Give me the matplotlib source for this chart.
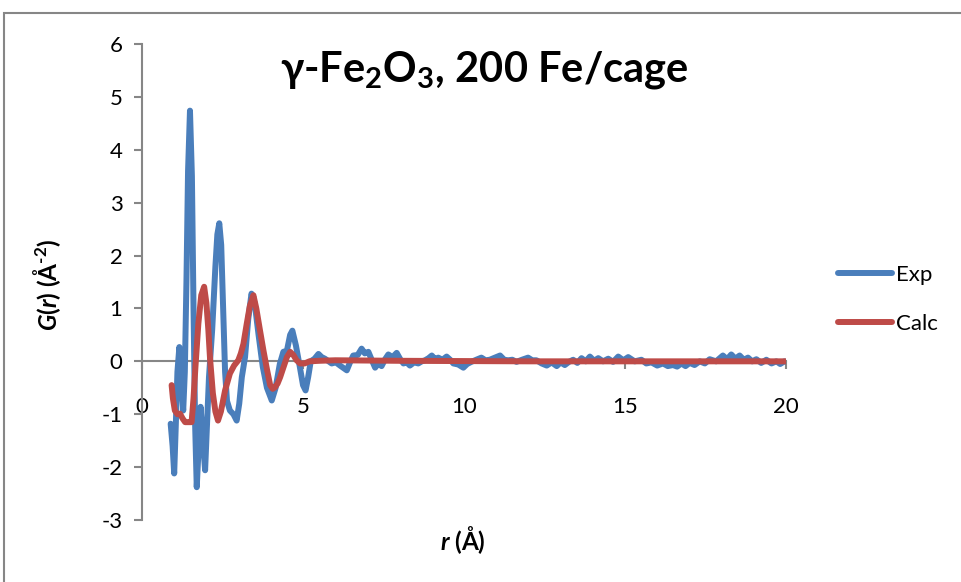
import matplotlib
matplotlib.use("Agg")
from matplotlib import pyplot as plt
from matplotlib.patches import Rectangle

exp_r = [0.89, 0.95, 1.00, 1.05, 1.10, 1.16, 1.22, 1.28, 1.33, 1.38, 1.43, 1.49, 1.55, 1.60,
         1.65, 1.70, 1.76, 1.82, 1.89, 1.96, 2.02, 2.08, 2.18, 2.28, 2.34, 2.40, 2.46, 2.52,
         2.58, 2.64, 2.73, 2.84, 2.94, 3.02, 3.10, 3.20, 3.30, 3.40, 3.50, 3.62, 3.75, 3.88,
         4.03, 4.15, 4.28, 4.39, 4.50, 4.60, 4.67, 4.78, 4.90, 5.00, 5.08, 5.16, 5.24, 5.36,
         5.48, 5.58, 5.68, 5.89, 6.02, 6.15, 6.36, 6.46, 6.56, 6.70, 6.82, 6.92, 7.03, 7.14,
         7.24, 7.34, 7.44, 7.55, 7.65, 7.78, 7.91, 8.02, 8.12, 8.22, 8.32, 8.45, 8.58, 8.69,
         8.79, 8.90, 9.00, 9.10, 9.20, 9.33, 9.46, 9.57, 9.67, 9.82, 9.98, 10.10, 10.23, 10.38,
         10.54, 10.67, 10.80, 10.96, 11.12, 11.25, 11.37, 11.50, 11.63, 11.80, 11.99, 12.12,
         12.25, 12.41, 12.57, 12.72, 12.88, 13.00, 13.13, 13.26, 13.39, 13.52, 13.65, 13.78,
         13.91, 14.04, 14.17, 14.32, 14.48, 14.63, 14.79, 14.95, 15.10, 15.30, 15.51, 15.66,
         15.82, 16.00, 16.18, 16.33, 16.49, 16.62, 16.75, 16.88, 17.01, 17.16, 17.32, 17.48,
         17.63, 17.83, 18.04, 18.17, 18.30, 18.43, 18.56, 18.69, 18.82, 18.95, 19.08, 19.23,
         19.39, 19.55, 19.70, 19.82, 19.95]
exp_g = [-1.18, -1.60, -2.12, -1.20, -0.20, 0.27, -0.40, -0.93, -0.20, 1.50, 3.60, 4.74, 3.50, 1.00,
         -1.20, -2.38, -1.60, -0.86, -1.50, -2.06, -1.20, -0.30, 0.60, 1.80, 2.40, 2.61, 2.20, 1.00,
         -0.20, -0.75, -0.93, -1.00, -1.12, -0.80, -0.30, 0.08, 0.80, 1.28, 1.10, 0.50, -0.10, -0.50,
         -0.74, -0.50, -0.05, 0.18, 0.20, 0.50, 0.58, 0.30, -0.10, -0.45, -0.55, -0.30, 0.00, 0.05,
         0.14, 0.08, 0.05, -0.04, -0.02, -0.08, -0.17, -0.02, 0.11, 0.12, 0.24, 0.15, 0.18, 0.02,
         -0.12, -0.04, -0.09, 0.04, 0.13, 0.08, 0.16, 0.04, -0.04, -0.02, -0.08, -0.02, -0.04, 0.00,
         0.02, 0.06, 0.11, 0.04, 0.07, 0.03, 0.09, 0.03, -0.04, -0.06, -0.12, -0.05, -0.01, 0.03,
         0.07, 0.02, 0.03, 0.07, 0.11, 0.03, 0.02, 0.03, -0.01, 0.03, 0.07, 0.02,
         0.02, -0.04, -0.08, -0.02, -0.09, -0.02, -0.07, -0.01, 0.03, -0.03, 0.06, 0.00,
         0.09, 0.01, 0.06, 0.00, 0.05, -0.01, 0.09, 0.02, 0.08, 0.00, 0.03, -0.04,
         -0.02, -0.08, -0.04, -0.09, -0.07, -0.10, -0.04, -0.09, -0.03, -0.07, 0.00, -0.04,
         0.04, 0.00, 0.11, 0.04, 0.13, 0.05, 0.11, 0.03, 0.07, 0.00, 0.04, -0.03,
         0.03, -0.04, 0.00, -0.05, 0.00]

# Calc: model G(r)
calc_r = [0.92, 0.96, 1.02, 1.10, 1.18, 1.26, 1.34, 1.44, 1.54, 1.60, 1.66, 1.75, 1.84, 1.93,
          2.00, 2.06, 2.11, 2.20, 2.28, 2.36, 2.45, 2.58, 2.73, 2.86, 2.99, 3.07, 3.15, 3.25,
          3.35, 3.46, 3.55, 3.66, 3.77, 3.88, 3.98, 4.06, 4.13, 4.21, 4.29, 4.40, 4.50, 4.60,
          4.70, 4.80, 4.91, 5.05, 5.20, 5.50, 6.00, 8.00, 12.0, 16.0, 20.0]
calc_g = [-0.45, -0.70, -0.93, -1.00, -0.99, -1.08, -1.15, -1.15, -1.15, -0.70, -0.10, 0.71, 1.25, 1.41,
          1.10, 0.60, 0.08, -0.60, -0.95, -1.12, -0.95, -0.55, -0.23, -0.08, 0.02, 0.15, 0.33, 0.70,
          1.05, 1.25, 1.00, 0.60, 0.21, -0.15, -0.45, -0.52, -0.49, -0.42, -0.30, -0.10, 0.08, 0.18,
          0.12, 0.02, -0.04, -0.04, 0.00, 0.01, 0.02, 0.01, 0.00, 0.00, 0.00]

x_ticks = [0, 5, 10, 15, 20]
y_ticks = [-3, -2, -1, 0, 1, 2, 3, 4, 5, 6]

GRAY = "#868686"
BLUE = "#4A7EBB"
RED = "#BE4B48"

plt.rcParams["font.family"] = ["Lato", "DejaVu Sans"]
plt.rcParams["axes.unicode_minus"] = False
plt.rcParams["mathtext.fontset"] = "custom"
plt.rcParams["mathtext.rm"] = "Lato:bold"
plt.rcParams["mathtext.it"] = "Lato:italic:bold"
plt.rcParams["mathtext.bf"] = "Lato:bold"

fig = plt.figure(figsize=(9.61, 5.82), dpi=100)
fig.patches.append(Rectangle((4 / 961, -0.2), 1.2, 1.2 - 13 / 582, transform=fig.transFigure,
                             fill=False, edgecolor=GRAY, linewidth=1.5))

ax = fig.add_axes([142 / 961, 1 - 520 / 582, 644 / 961, 476 / 582])
ax.plot(exp_r, exp_g, color=BLUE, lw=4.3, solid_joinstyle="round", solid_capstyle="round", label="Exp")
ax.plot(calc_r, calc_g, color=RED, lw=4.3, solid_joinstyle="round", solid_capstyle="round", label="Calc")

ax.set_xlim(0, 20)
ax.set_ylim(-3, 6)
ax.set_xticks(x_ticks)
ax.set_yticks(y_ticks)
for side in ["top", "right"]:
    ax.spines[side].set_visible(False)
ax.spines["left"].set_color(GRAY)
ax.spines["left"].set_linewidth(1.5)
ax.spines["bottom"].set_position(("data", 0))
ax.spines["bottom"].set_color(GRAY)
ax.spines["bottom"].set_linewidth(1.5)
ax.spines["bottom"].set_zorder(0.5)
ax.tick_params(axis="y", direction="out", length=6, width=1.5, color=GRAY, labelsize=16, pad=8)
ax.tick_params(axis="x", direction="out", length=6, width=1.5, color=GRAY, labelsize=16, pad=20)

fig.text(484 / 961, 1 - 70 / 582, r"γ-Fe$_2$O$_3$, 200 Fe/cage", ha="center", va="center",
         fontsize=30, fontweight="bold")
fig.text(47 / 961, 1 - 285 / 582, r"$G$($r$) (Å$^{\text{-2}}$)", ha="center", va="center",
         rotation=90, fontsize=17.5, fontweight="bold")
fig.text(463 / 961, 1 - 540 / 582, r"$r$ (Å)", ha="center", va="center",
         fontsize=17.5, fontweight="bold")

fig.legend(loc="upper left", bbox_to_anchor=(838 / 961, 1 - 265 / 582), frameon=False,
           fontsize=16, handlelength=2.45, handletextpad=0.15, labelspacing=1.3,
           borderpad=0, borderaxespad=0)

fig.savefig("out.png", dpi=100)
